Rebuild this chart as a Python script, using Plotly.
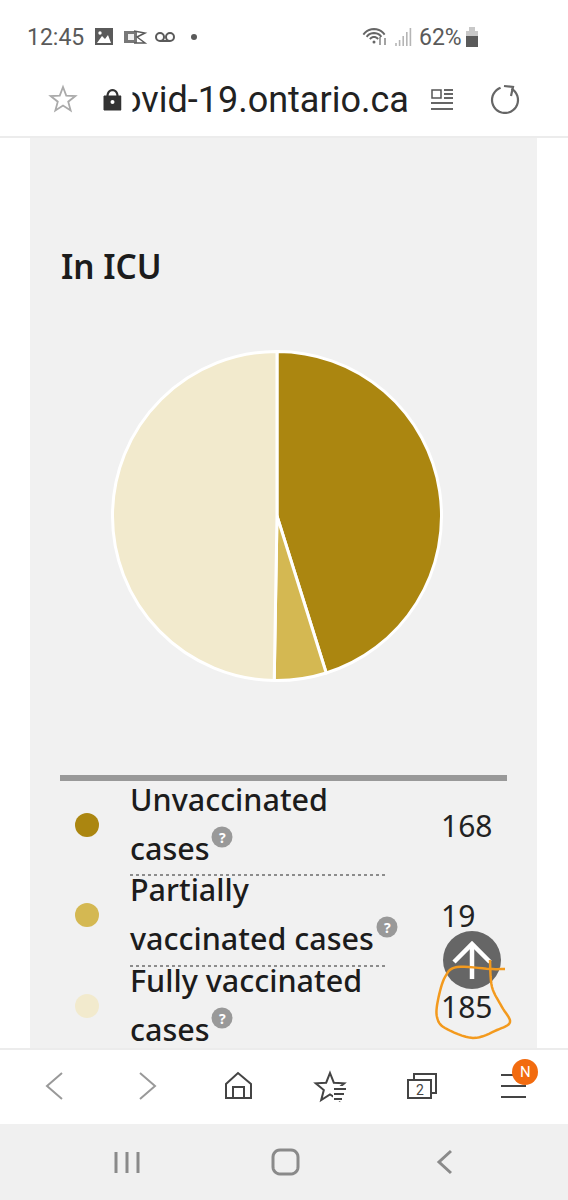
import math
import plotly.graph_objects as go

categories = ["Unvaccinated cases", "Partially vaccinated cases", "Fully vaccinated cases"]
values = [168, 19, 185]
colors = ["#AB8610", "#D4B852", "#F2EACD"]
label_lines = [("Unvaccinated", "cases"), ("Partially", "vaccinated cases"), ("Fully vaccinated", "cases")]
title_text = "In ICU"
url_text = "ovid-19.ontario.ca"
time_text = "12:45"
battery_text = "62%"

W, H = 568, 1200
X = lambda x: x / W
Y = lambda y: 1 - y / H
shapes, notes = [], []


def rect(x0, y0, x1, y1, fill, line=None, lw=0, layer="above"):
    shapes.append(dict(type="rect", xref="paper", yref="paper", x0=X(x0), x1=X(x1), y0=Y(y0), y1=Y(y1), layer=layer,
                       fillcolor=fill, line=dict(color=line or fill, width=lw)))


def circ(cx, cy, r, fill, line=None, lw=0):
    shapes.append(dict(type="circle", xref="paper", yref="paper", x0=X(cx - r), x1=X(cx + r), y0=Y(cy + r), y1=Y(cy - r),
                       fillcolor=fill, line=dict(color=line or fill, width=lw)))


def poly(pts, color="#444", lw=2, fill=None, close=False, dash=None):
    d = "M" + " L".join(f"{X(a):.5f},{Y(b):.5f}" for a, b in pts) + (" Z" if close else "")
    line = dict(color=color, width=lw)
    if dash:
        line["dash"] = dash
    shapes.append(dict(type="path", xref="paper", yref="paper", path=d,
                       fillcolor=fill or "rgba(0,0,0,0)", line=line))


def arc(cx, cy, rx, ry, a0, a1, n=24):
    return [(cx + rx * math.cos(math.radians(a0 + (a1 - a0) * i / n)),
             cy + ry * math.sin(math.radians(a0 + (a1 - a0) * i / n))) for i in range(n + 1)]


def smooth(pts, n=8):
    out = []
    p = [pts[0]] + list(pts) + [pts[-1]]
    for i in range(1, len(p) - 2):
        for j in range(n):
            t = j / n
            out.append(tuple(0.5 * (2 * p[i][k] + (p[i + 1][k] - p[i - 1][k]) * t
                                    + (2 * p[i - 1][k] - 5 * p[i][k] + 4 * p[i + 1][k] - p[i + 2][k]) * t * t
                                    + (3 * p[i][k] - p[i - 1][k] - 3 * p[i + 1][k] + p[i + 2][k]) * t ** 3)
                             for k in (0, 1)))
    out.append(pts[-1])
    return out


def text(x, y, s, size, color="#1c1c1c", family="Noto Sans", anchor="left", weight=None):
    f = dict(size=size, color=color, family=family)
    if weight:
        f["weight"] = weight
    notes.append(dict(xref="paper", yref="paper", x=X(x), y=Y(y), text=s, showarrow=False, xanchor=anchor,
                      yanchor="middle", font=f, borderpad=0, borderwidth=0))


# panels
rect(0, 1124, 568, 1200, "#F0F0F0", layer="below")
rect(30, 138, 537, 1048, "#F1F1F1", layer="below")
poly([(0, 137), (568, 137)], "#E6E6E6", 1.5)
poly([(0, 1049), (568, 1049)], "#E6E6E6", 1.5)

# status bar
G = "#5a5a5a"
text(27, 37, time_text, 23, G, "Roboto")
rect(95, 28, 113, 45, G)
poly([(97, 43), (102, 36), (105, 39), (108, 35), (111, 43)], "#fff", 0, "#fff", True)
circ(100, 33, 1.7, "#fff")
rect(124, 31, 137, 43, "#777")
rect(128, 34, 134, 40, "#eee")
poly([(134, 31), (145, 33), (137, 37), (145, 43), (134, 43)], G, 1.5)
circ(160, 37, 4, "#fff", G, 2)
circ(170, 37, 4, "#fff", G, 2)
poly([(160, 41), (170, 41)], G, 2)
circ(194, 37, 3, G)
for r, c in [(13, "#666"), (9, "#666"), (5, "#666")]:
    poly(arc(374, 42, r, r, 215, 325, 10), c, 2)
circ(374, 42, 1.5, "#666")
poly([(380, 37), (380, 45)], "#666", 1.2)
poly([(385, 38), (385, 45)], "#666", 1.2)
for i, h in enumerate([3, 6, 10, 14, 18]):
    poly([(396 + i * 3.6, 46), (396 + i * 3.6, 46 - h)], "#b5b5b5", 1.6)
text(419, 37, battery_text, 23, G, "Roboto")
rect(466, 31, 478, 47, "#c8c8c8")
rect(469, 27, 475, 31, "#c8c8c8")
rect(466, 36, 478, 47, G)

# address bar
star = [(63 + (13 if i % 2 == 0 else 5.5) * math.sin(math.radians(36 * i)),
         100 - (13 if i % 2 == 0 else 5.5) * math.cos(math.radians(36 * i))) for i in range(10)]
poly(star, "#aaa", 1.8, None, True)
rect(104, 96, 121, 110, "#333", "#333", 1)
poly(arc(112.5, 96, 5, 6, 180, 360, 12), "#333", 2.2)
circ(112.5, 102, 2, "#fff")
text(409, 100, url_text, 36, "#222", "Roboto", "right")
notes.append(dict(xref="paper", yref="paper", x=X(121), y=Y(100), text=" ", showarrow=False, xanchor="left",
                  yanchor="middle", width=10, height=40, bgcolor="#fff", borderpad=0))
rect(432, 90, 441, 98, "rgba(0,0,0,0)", "#555", 1.5)
for y, x0 in [(90, 444), (94, 444), (98, 444), (103, 431), (109, 431)]:
    poly([(x0, y), (453, y)], "#555", 1.8)
poly(arc(505, 100, 13, 13, -60, 250, 30), "#666", 2.2)
poly([(504, 86), (513, 87), (511, 96)], "#666", 2.2)

# pie
pie = go.Pie(labels=categories, values=values, sort=False, direction="clockwise", rotation=0,
             marker=dict(colors=colors, line=dict(color="#FFFFFF", width=3)),
             textinfo="none", hoverinfo="label+value", showlegend=False,
             domain=dict(x=[X(112.5), X(441.5)], y=[Y(680.5), Y(351.5)]))

# title and legend table
text(61, 266, title_text, 33.3, weight=600)
rect(60, 775, 507, 781, "#999999")
row_y = [825, 915, 1006]
q_pos = [(222, 837), (387, 927), (222, 1018)]
for (l1, l2), v, c, y, (qx, qy) in zip(label_lines, values, colors, row_y, q_pos):
    circ(87, y, 12, c)
    text(130, y - 26, l1, 30.5, weight=500)
    text(130, y + 23, l2, 30.5, weight=500)
    text(441, y, str(v), 30, "#222")
    circ(qx, qy, 10.5, "#999999")
    text(qx, qy, "?", 14, "#fff", anchor="center", weight=700)
for y in [875, 966]:
    poly([(130, y), (386, y)], "#8c8c8c", 2, dash="dot")

# scroll-to-top button
circ(472, 960, 29, "#666666")
poly([(454, 962), (472, 944), (490, 962)], "#fff", 4.5)
poly([(472, 945), (472, 979)], "#fff", 4.5)

# orange hand-drawn circle
poly(smooth([(505, 969), (490, 969), (457, 967), (445, 977), (438, 1000), (437, 1017), (445, 1028), (473, 1038),
             (497, 1030), (510, 1022), (502, 1007), (492, 987), (490, 960)]), "#F39A1E", 2.5)

# bottom toolbar
poly([(62, 1073), (47, 1086), (62, 1099)], "#999", 2)
poly([(140, 1073), (155, 1086), (140, 1099)], "#999", 2)
D = "#444"
poly([(226, 1098), (226, 1084), (238, 1073), (251, 1084), (251, 1098)], D, 2, None, True)
poly([(233, 1098), (233, 1087), (244, 1087), (244, 1098)], D, 2)
star2 = [(330 + (15 if i % 2 == 0 else 6.5) * math.sin(math.radians(36 * i)),
          1088 - (15 if i % 2 == 0 else 6.5) * math.cos(math.radians(36 * i))) for i in range(10)]
poly(star2, D, 2, None, True)
rect(333, 1086, 347, 1101, "#fff")
for y, x1 in [(1089, 346), (1094, 344), (1099, 342)]:
    poly([(334, y), (x1, y)], D, 2)
poly([(414, 1079), (414, 1074), (436, 1074), (436, 1093), (431, 1093)], D, 2)
rect(408, 1080, 431, 1098, "#fff", D, 2)
text(419.5, 1090, "2", 14, D, "Roboto", "center")
for y in [1075, 1086, 1097]:
    poly([(501, y), (526, y)], D, 2)
circ(525, 1072, 13, "#F26B0F")
text(525, 1072, "N", 15, "#fff", "Roboto", "center")

# system navigation bar
N = "#8a8a8a"
for x in [116, 127, 138]:
    poly([(x, 1152), (x, 1173)], N, 3)
r = 7
poly(arc(291, 1157, r, r, -90, 0, 6) + arc(291, 1167, r, r, 0, 90, 6) + arc(280, 1167, r, r, 90, 180, 6)
     + arc(280, 1157, r, r, 180, 270, 6), N, 3, None, True)
poly([(451, 1151), (439, 1162), (451, 1173)], N, 3)

fig = go.Figure(pie)
fig.update_layout(width=W, height=H, margin=dict(l=0, r=0, t=0, b=0), autosize=False,
                  paper_bgcolor="#FFFFFF", plot_bgcolor="#FFFFFF", shapes=shapes, annotations=notes)
fig.write_html("out.html", config=dict(displayModeBar=False),
               post_script="document.body.style.margin='0';")
